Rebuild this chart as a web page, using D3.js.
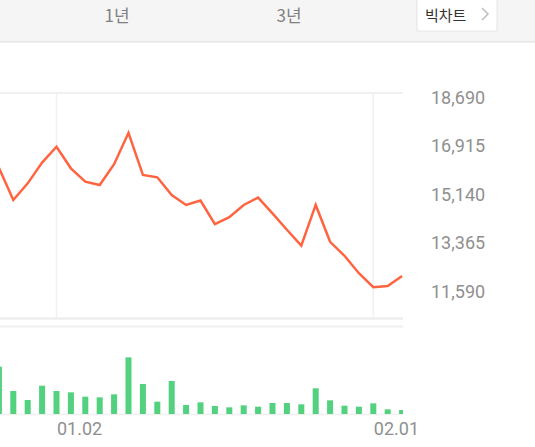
<!DOCTYPE html>
<html><head><meta charset="utf-8">
<script src="https://cdn.jsdelivr.net/npm/d3@7"></script>
<style>
html,body{margin:0;padding:0;background:#fff;overflow:hidden;}
svg{display:block;}
</style></head>
<body>
<svg id="chart" width="535" height="447"></svg>
<script>
// ---- data ----
const dates = ["12.22","12.26","12.27","12.28","01.02","01.03","01.04","01.05","01.08","01.09","01.10","01.11","01.12","01.15","01.16","01.17","01.18","01.19","01.22","01.23","01.24","01.25","01.26","01.29","01.30","01.31","02.01","02.02","02.05"];
const prices = [16100,14920,15530,16290,16870,16080,15590,15470,16230,17380,15840,15750,15100,14740,14900,14040,14290,14740,15010,14430,13830,13250,14740,13390,12880,12240,11730,11770,12140];
const volumes = [1420,690,420,850,690,650,520,500,590,1700,900,370,990,270,350,240,200,260,220,330,330,290,770,410,250,220,320,140,120];
const yTicks = [18690,16915,15140,13365,11590];
const xTickLabels = ["01.02","02.01"];
const tabs = ["1년","3년"];
const buttonLabel = "빅차트";

const svg = d3.select("#chart");

// ---- header ----
svg.append("rect").attr("x",0).attr("y",0).attr("width",535).attr("height",41).attr("fill","#f5f5f5");
svg.append("rect").attr("x",0).attr("y",41).attr("width",535).attr("height",1.5).attr("fill","#e6e6e6");
const tabX = d3.scalePoint().domain(tabs).range([117,289]);
svg.selectAll("text.tab").data(tabs).join("text").attr("class","tab")
  .attr("x",d=>tabX(d)).attr("y",22).attr("text-anchor","middle")
  .attr("font-family","'Noto Sans CJK KR', 'Noto Sans', sans-serif").attr("font-size",17)
  .attr("fill","#808080").text(d=>d);
svg.append("rect").attr("x",417).attr("y",-1).attr("width",80).attr("height",32)
  .attr("fill","#fff").attr("stroke","#e4e4e4").attr("stroke-width",1);
svg.append("text").attr("x",425).attr("y",21).attr("font-family","'Noto Sans CJK KR', sans-serif")
  .attr("font-size",15).attr("fill","#333").text(buttonLabel);
svg.append("path").attr("d","M482,8 L488,14 L482,20").attr("fill","none").attr("stroke","#bdbdbd").attr("stroke-width",1.5);

// ---- scales ----
const idx = d3.range(dates.length);
const x = d3.scaleLinear().domain([4,26]).range([56.5,373.3]);
const y = d3.scaleLinear().domain([11590,18690]).range([291,97]);
const vy = d3.scaleLinear().domain([0,1800]).range([414,354]);

const plotRight = 403;
const grid = "#f0f0f0";

// clip
svg.append("defs").append("clipPath").attr("id","clip")
  .append("rect").attr("x",0).attr("y",80).attr("width",plotRight).attr("height",350);

// grid lines
svg.append("line").attr("x1",0).attr("x2",plotRight).attr("y1",93).attr("y2",93).attr("stroke",grid).attr("stroke-width",2);
svg.append("line").attr("x1",0).attr("x2",plotRight).attr("y1",318.5).attr("y2",318.5).attr("stroke","#eeeeee").attr("stroke-width",2.5);
svg.append("line").attr("x1",0).attr("x2",plotRight).attr("y1",326.5).attr("y2",326.5).attr("stroke","#f0f0f0").attr("stroke-width",2);
svg.append("line").attr("x1",0).attr("x2",plotRight).attr("y1",414.5).attr("y2",414.5).attr("stroke","#f0f0f0").attr("stroke-width",1.5);
const xTickIdx = xTickLabels.map(l=>dates.indexOf(l));
svg.selectAll("line.vgrid").data(xTickIdx).join("line").attr("class","vgrid")
  .attr("x1",d=>x(d)).attr("x2",d=>x(d)).attr("y1",93).attr("y2",318)
  .attr("stroke",grid).attr("stroke-width",1.5);

// y axis labels
const yAxis = d3.axisRight(y).tickValues(yTicks).tickSize(0).tickPadding(0).tickFormat(d3.format(","));
const yg = svg.append("g").attr("transform","translate(431,0)").call(yAxis);
yg.select(".domain").remove();
yg.selectAll("text").attr("font-family","Roboto, sans-serif").attr("font-size",18).attr("fill","#8f8f8f").attr("dy","0.36em");

// x axis labels
const xAxis = d3.axisBottom(x).tickValues(xTickIdx).tickSize(0).tickPadding(0).tickFormat(i=>dates[i]);
const xg = svg.append("g").attr("transform","translate(0,421)").call(xAxis);
xg.select(".domain").remove();
xg.selectAll("text").attr("font-family","Roboto, sans-serif").attr("font-size",18).attr("fill","#8f8f8f")
  .attr("text-anchor","start").attr("dy","0.75em");

// volume bars
svg.append("g").attr("clip-path","url(#clip)").selectAll("rect").data(idx).join("rect")
  .attr("x",i=>x(i)-3).attr("width",6)
  .attr("y",i=>vy(volumes[i])).attr("height",i=>vy(0)-vy(volumes[i]))
  .attr("fill","#52d17f");

// price line
const line = d3.line().x(i=>x(i)).y(i=>y(prices[i]));
svg.append("path").attr("clip-path","url(#clip)").datum(idx).attr("d",line)
  .attr("fill","none").attr("stroke","#ff6440").attr("stroke-width",2.5).attr("stroke-linejoin","miter");
</script>
</body></html>
